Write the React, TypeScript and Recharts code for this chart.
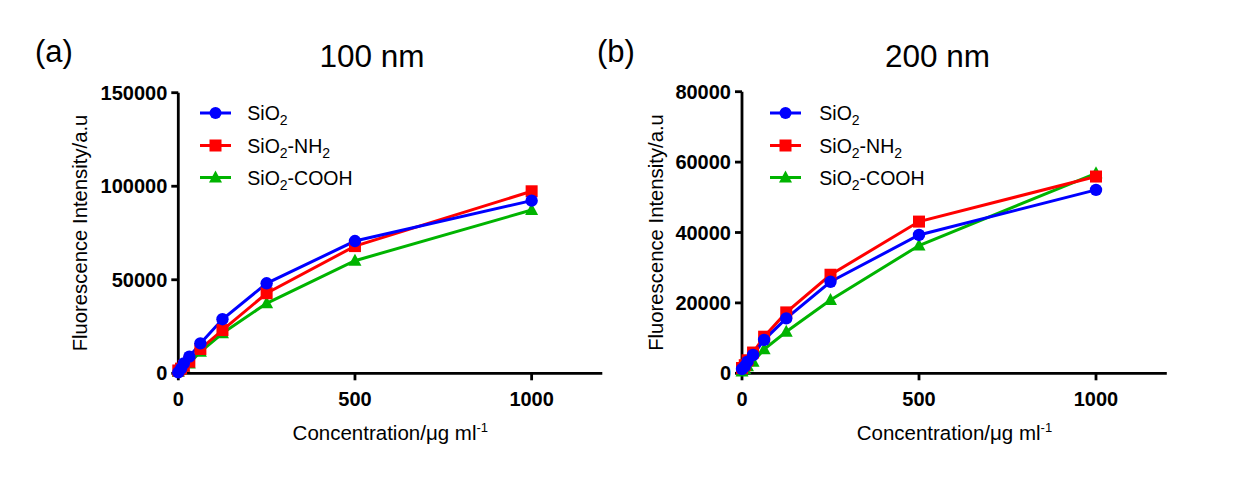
import React from 'react'
import { LineChart, Line, XAxis, YAxis, Legend, Label } from 'recharts'

// concentrations in µg/ml (two-fold dilution series)
const concentrations = [0, 7.8, 15.6, 31.25, 62.5, 125, 250, 500, 1000]

// 100 nm particles
const sio2_100 = [500, 2500, 5300, 8900, 16000, 28900, 48100, 70700, 92300]
const nh2_100 = [1500, 2500, 4000, 6200, 13000, 23100, 42800, 68000, 97300]
const cooh_100 = [800, 2000, 3500, 5300, 11500, 21400, 37400, 60200, 87300]

// 200 nm particles
const sio2_200 = [1200, 2000, 3300, 5200, 9500, 15600, 26000, 39300, 52100]
const nh2_200 = [1500, 2300, 3700, 5900, 10400, 17300, 28000, 43100, 55900]
const cooh_200 = [500, 1200, 2000, 3300, 6800, 11800, 20800, 36300, 56800]

const xTicks = [0, 500, 1000]
const yTicks100 = [0, 50000, 100000, 150000]
const yTicks200 = [0, 20000, 40000, 60000, 80000]

const FONT = '"Liberation Sans", Arial, sans-serif'
const BLUE = '#0000ff'
const RED = '#ff0000'
const GREEN = '#00b400'

const AXIS_W = 60
const AXIS_H = 30

const build = (a: number[], b: number[], c: number[]) =>
  concentrations.map((x, i) => ({ x, sio2: a[i], nh2: b[i], cooh: c[i] }))

const data100 = build(sio2_100, nh2_100, cooh_100)
const data200 = build(sio2_200, nh2_200, cooh_200)

const circleDot = (p: any) => (
  <circle key={`c-${p.index}`} cx={p.cx} cy={p.cy} r={6.2} fill={BLUE} />
)
const squareDot = (p: any) => (
  <rect key={`s-${p.index}`} x={p.cx - 6} y={p.cy - 6} width={12} height={12} fill={RED} />
)
const triDot = (p: any) => (
  <polygon
    key={`t-${p.index}`}
    points={`${p.cx},${p.cy - 7} ${p.cx + 6.5},${p.cy + 5} ${p.cx - 6.5},${p.cy + 5}`}
    fill={GREEN}
  />
)

const LegendBox = ({ lineX, textX }: { lineX: number; textX: number }) => {
  const rows = [
    {
      y: 18,
      color: BLUE,
      kind: 'c',
      label: (
        <>
          SiO<tspan dy={5} fontSize={14}>2</tspan>
        </>
      ),
    },
    {
      y: 50.5,
      color: RED,
      kind: 's',
      label: (
        <>
          SiO<tspan dy={5} fontSize={14}>2</tspan>
          <tspan dy={-5}>-NH</tspan>
          <tspan dy={5} fontSize={14}>2</tspan>
        </>
      ),
    },
    {
      y: 82.5,
      color: GREEN,
      kind: 't',
      label: (
        <>
          SiO<tspan dy={5} fontSize={14}>2</tspan>
          <tspan dy={-5}>-COOH</tspan>
        </>
      ),
    },
  ]
  const mx = lineX + 15.5
  return (
    <svg width={220} height={110} style={{ overflow: 'visible' }}>
      {rows.map((r) => (
        <g key={r.kind}>
          <line x1={lineX} x2={lineX + 31} y1={r.y} y2={r.y} stroke={r.color} strokeWidth={3} />
          {r.kind === 'c' && <circle cx={mx} cy={r.y} r={6} fill={r.color} />}
          {r.kind === 's' && <rect x={mx - 6} y={r.y - 6} width={12} height={12} fill={r.color} />}
          {r.kind === 't' && (
            <polygon points={`${mx},${r.y - 7} ${mx + 6.5},${r.y + 5} ${mx - 6.5},${r.y + 5}`} fill={r.color} />
          )}
          <text x={textX} y={r.y + 7} fontSize={19.5} fontFamily={FONT} fill="#000">
            {r.label}
          </text>
        </g>
      ))}
    </svg>
  )
}

interface PanelProps {
  data: any[]
  yMax: number
  yTicks: number[]
  width: number
  plot: { top: number; right: number; bottom: number; left: number }
  yLabelX: number
  legendPos: { left: number; top: number; lineX: number; textX: number }
}

const Panel: React.FC<PanelProps> = ({ data, yMax, yTicks, width, plot, yLabelX, legendPos }) => {
  const tickStyle = { fill: '#000', fontSize: 20, fontWeight: 'bold', fontFamily: FONT }
  const margin = {
    top: plot.top,
    right: plot.right,
    bottom: plot.bottom - AXIS_H,
    left: plot.left - AXIS_W,
  }
  return (
    <LineChart width={width} height={486} data={data} margin={margin}>
      <XAxis
        dataKey="x"
        type="number"
        domain={[0, 1200]}
        ticks={xTicks}
        height={AXIS_H}
        tickSize={7}
        tickMargin={11}
        tick={tickStyle}
        axisLine={{ stroke: '#000', strokeWidth: 2.8 }}
        tickLine={{ stroke: '#000', strokeWidth: 2.8 }}
      >
        <Label
          content={(p: any) => {
            const vb = p.viewBox
            return (
              <text x={vb.x + vb.width / 2} y={440} textAnchor="middle" fontSize={20.5} fontFamily={FONT} fill="#000">
                Concentration/μg ml<tspan dy={-8} fontSize={13}>-1</tspan>
              </text>
            )
          }}
        />
      </XAxis>
      <YAxis
        type="number"
        domain={[0, yMax]}
        ticks={yTicks}
        width={AXIS_W}
        tickSize={7}
        tickMargin={4}
        tick={tickStyle}
        axisLine={{ stroke: '#000', strokeWidth: 2.8 }}
        tickLine={{ stroke: '#000', strokeWidth: 2.8 }}
      >
        <Label
          content={(p: any) => {
            const vb = p.viewBox
            const y = vb.y + vb.height / 2
            return (
              <text
                x={yLabelX}
                y={y}
                transform={`rotate(-90 ${yLabelX} ${y})`}
                textAnchor="middle"
                fontSize={20.3}
                fontFamily={FONT}
                fill="#000"
              >
                Fluorescence Intensity/a.u
              </text>
            )
          }}
        />
      </YAxis>
      <Legend
        layout="vertical"
        align="center"
        verticalAlign="middle"
        wrapperStyle={{ left: legendPos.left, top: legendPos.top, width: 220, height: 110 }}
        content={() => <LegendBox lineX={legendPos.lineX} textX={legendPos.textX} />}
      />
      <Line type="linear" dataKey="cooh" stroke={GREEN} strokeWidth={3} dot={triDot} isAnimationActive={false} />
      <Line type="linear" dataKey="nh2" stroke={RED} strokeWidth={3} dot={squareDot} isAnimationActive={false} />
      <Line type="linear" dataKey="sio2" stroke={BLUE} strokeWidth={3} dot={circleDot} isAnimationActive={false} />
    </LineChart>
  )
}

const headStyle = { fontFamily: FONT, fill: '#000' }

export default function App() {
  return (
    <div style={{ position: 'absolute', left: 0, top: 0, width: 1251, height: 486, background: '#fff' }}>
      <div style={{ position: 'absolute', left: 0, top: 0 }}>
        <Panel
          data={data100}
          yMax={150000}
          yTicks={yTicks100}
          width={630}
          plot={{ top: 92.7, right: 27.7, bottom: 112.7, left: 178.3 }}
          yLabelX={86.7}
          legendPos={{ left: 190, top: 95, lineX: 10, textX: 57.3 }}
        />
      </div>
      <div style={{ position: 'absolute', left: 630, top: 0 }}>
        <Panel
          data={data200}
          yMax={80000}
          yTicks={yTicks200}
          width={621}
          plot={{ top: 91.7, right: 84.2, bottom: 112.7, left: 112 }}
          yLabelX={33.4}
          legendPos={{ left: 130, top: 95, lineX: 10, textX: 59.3 }}
        />
      </div>
      <svg width={1251} height={486} style={{ position: 'absolute', left: 0, top: 0, pointerEvents: 'none' }}>
        <text x={35} y={62} fontSize={31} {...headStyle}>(a)</text>
        <text x={372} y={66.7} fontSize={31.5} textAnchor="middle" {...headStyle}>100 nm</text>
        <text x={597} y={62} fontSize={31} {...headStyle}>(b)</text>
        <text x={937.5} y={66.7} fontSize={31.5} textAnchor="middle" {...headStyle}>200 nm</text>
      </svg>
    </div>
  )
}
